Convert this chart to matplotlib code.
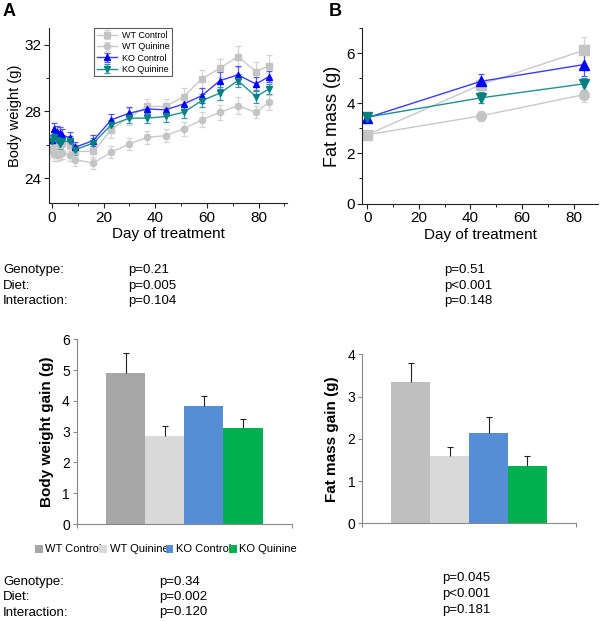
import matplotlib
matplotlib.use("Agg")
import matplotlib.pyplot as plt
from matplotlib.patches import Patch
from matplotlib.ticker import MultipleLocator

plt.rcParams['font.family'] = ['Liberation Sans', 'DejaVu Sans']

# ---------------- data ----------------
days = [0, 1, 2, 3, 4, 7, 9, 16, 23, 30, 37, 44, 51, 58, 65, 72, 79, 84]
wt_ctrl = [25.9, 26.1, 26.2, 26.0, 26.1, 26.0, 25.6, 25.6, 26.9, 27.7, 28.3, 28.3, 28.9, 29.95, 30.6, 31.3, 30.4, 30.75]
wt_quin = [25.6, 25.45, 25.4, 25.45, 25.5, 25.4, 25.1, 24.9, 25.55, 26.05, 26.45, 26.55, 26.95, 27.5, 27.95, 28.35, 27.95, 28.55]
ko_ctrl = [26.3, 26.95, 26.75, 26.7, 26.6, 26.4, 25.85, 26.25, 27.5, 27.9, 28.15, 28.1, 28.45, 28.95, 29.85, 30.2, 29.65, 30.1]
ko_quin = [26.25, 26.45, 26.3, 26.05, 26.2, 26.2, 25.7, 26.1, 27.2, 27.6, 27.6, 27.7, 27.95, 28.65, 29.1, 29.85, 28.9, 29.35]
wt_ctrl_err = [0.4, 0.4, 0.45, 0.4, 0.4, 0.4, 0.35, 0.45, 0.5, 0.5, 0.45, 0.45, 0.5, 0.55, 0.55, 0.65, 0.6, 0.65]
wt_quin_err = [0.35, 0.4, 0.4, 0.35, 0.35, 0.35, 0.35, 0.35, 0.35, 0.35, 0.4, 0.4, 0.4, 0.45, 0.45, 0.5, 0.35, 0.45]
ko_ctrl_err = [0.3, 0.35, 0.35, 0.35, 0.35, 0.35, 0.3, 0.35, 0.35, 0.35, 0.3, 0.35, 0.35, 0.45, 0.5, 0.55, 0.4, 0.35]
ko_quin_err = [0.3, 0.3, 0.3, 0.3, 0.3, 0.3, 0.3, 0.3, 0.3, 0.3, 0.3, 0.35, 0.35, 0.4, 0.4, 0.4, 0.4, 0.3]

fat_days = [0, 44, 84]
fat_wt_ctrl = [2.75, 4.75, 6.12]
fat_wt_quin = [2.75, 3.5, 4.35]
fat_ko_ctrl = [3.43, 4.88, 5.55]
fat_ko_quin = [3.45, 4.22, 4.78]
fat_wt_ctrl_err = [0.12, 0.2, 0.52]
fat_wt_quin_err = [0.1, 0.2, 0.3]
fat_ko_ctrl_err = [0.15, 0.28, 0.45]
fat_ko_quin_err = [0.1, 0.22, 0.25]

groups = ["WT Control", "WT Quinine", "KO Control", "KO Quinine"]
bw_gain = [4.9, 2.86, 3.83, 3.11]
bw_gain_err = [0.65, 0.33, 0.34, 0.29]
fat_gain = [3.34, 1.6, 2.13, 1.36]
fat_gain_err = [0.46, 0.21, 0.38, 0.24]

stat_labels = ["Genotype:", "Diet:", "Interaction:"]
p_bw = ["p=0.21", "p=0.005", "p=0.104"]
p_fat = ["p=0.51", "p<0.001", "p=0.148"]
p_bw_gain = ["p=0.34", "p=0.002", "p=0.120"]
p_fat_gain = ["p=0.045", "p<0.001", "p=0.181"]

# ---------------- figure ----------------
W, H = 600, 621
fig = plt.figure(figsize=(W / 100, H / 100), dpi=100)


def ax_px(left, top, right, bottom):
    return fig.add_axes([left / W, 1 - bottom / H, (right - left) / W, (bottom - top) / H])


line_styles = [
    dict(color='#c4c4c4', marker='s', ecolor='#d4d4d4', label='WT Control'),
    dict(color='#c4c4c4', marker='o', ecolor='#d4d4d4', label='WT Quinine'),
    dict(color='#0000ff', marker='^', ecolor='#5555ff', label='KO Control'),
    dict(color='#008080', marker='v', ecolor='#3a9a9a', label='KO Quinine'),
]
line_colors_line = ['#c8c8c8', '#c8c8c8', '#3b3bff', '#209090']


def style_line_axes(ax):
    for s in ['top', 'right']:
        ax.spines[s].set_visible(False)
    for s in ['left', 'bottom']:
        ax.spines[s].set_color('#222222')
        ax.spines[s].set_linewidth(0.8)
    ax.tick_params(which='major', direction='out', length=3.5, width=0.8, labelsize=11, color='#222222', pad=2)
    ax.tick_params(which='minor', direction='out', length=2, width=0.7, color='#222222')


# Panel A
axA = ax_px(49.3, 28.3, 287, 203)
seriesA = [(wt_ctrl, wt_ctrl_err), (wt_quin, wt_quin_err), (ko_ctrl, ko_ctrl_err), (ko_quin, ko_quin_err)]
for (vals, errs), st, lc in zip(seriesA, line_styles, line_colors_line):
    axA.errorbar(days, vals, yerr=errs, color=lc, marker=st['marker'], markersize=4.5,
                 markerfacecolor=st['color'], markeredgecolor=st['color'], ecolor=st['ecolor'],
                 elinewidth=0.9, capsize=2, capthick=0.9, linewidth=1.0, label=st['label'])
axA.set_xlim(-1, 91)
axA.set_ylim(22.5, 33)
axA.xaxis.set_major_locator(MultipleLocator(20))
axA.xaxis.set_minor_locator(MultipleLocator(10))
axA.yaxis.set_major_locator(MultipleLocator(4))
axA.yaxis.set_minor_locator(MultipleLocator(2))
style_line_axes(axA)
axA.set_xlabel('Day of treatment', fontsize=11, labelpad=2)
axA.set_ylabel('Body weight (g)', fontsize=10.5, labelpad=2)
legA = axA.legend(loc='upper left', bbox_to_anchor=(0.19, 1.0), fontsize=6.5, frameon=True,
                  fancybox=False, edgecolor='#333333', borderaxespad=0, handlelength=2.2,
                  borderpad=0.3, labelspacing=0.25, handletextpad=0.5)
legA.get_frame().set_linewidth(0.8)

# Panel B
axB = ax_px(362.3, 28.3, 598, 203.5)
seriesB = [(fat_wt_ctrl, fat_wt_ctrl_err), (fat_wt_quin, fat_wt_quin_err),
           (fat_ko_ctrl, fat_ko_ctrl_err), (fat_ko_quin, fat_ko_quin_err)]
for (vals, errs), st, lc in zip(seriesB, line_styles, line_colors_line):
    axB.errorbar(fat_days, vals, yerr=errs, color=lc, marker=st['marker'], markersize=7,
                 markerfacecolor=st['color'], markeredgecolor=st['color'], ecolor=st['ecolor'],
                 elinewidth=0.9, capsize=2, capthick=0.9, linewidth=1.0)
axB.set_xlim(-2, 89.5)
axB.set_ylim(0, 7)
axB.xaxis.set_major_locator(MultipleLocator(20))
axB.xaxis.set_minor_locator(MultipleLocator(10))
axB.yaxis.set_major_locator(MultipleLocator(2))
axB.yaxis.set_minor_locator(MultipleLocator(1))
style_line_axes(axB)
axB.set_xlabel('Day of treatment', fontsize=11, labelpad=2)
axB.set_ylabel('Fat mass (g)', fontsize=13, labelpad=4)

fig.text(3 / W, 1 - 12 / H, 'A', fontsize=13, fontweight='bold', va='center', ha='left')
fig.text(329 / W, 1 - 12 / H, 'B', fontsize=13, fontweight='bold', va='center', ha='left')

# Bar charts
bar_colors_left = ['#a6a6a6', '#d9d9d9', '#558ed5', '#00b050']
bar_colors_right = ['#bfbfbf', '#d9d9d9', '#558ed5', '#00b050']


def bar_axes(ax, vals, errs, colors, ymax, ylabel):
    x = list(range(len(vals)))
    ax.bar(x, vals, width=1.0, color=colors, edgecolor='none', zorder=2)
    eb = ax.errorbar(x, vals, yerr=[[0] * len(errs), errs], fmt='none', ecolor='#222222',
                     elinewidth=0.8, capsize=2.5, capthick=0.8, zorder=3)
    caps = eb[1]
    if len(caps) == 2:
        caps[0].set_visible(False)
    ax.set_xlim(-1.25, 4.25)
    ax.set_ylim(0, ymax)
    ax.set_xticks([-1.25, 4.25])
    ax.set_xticklabels(['', ''])
    ax.yaxis.set_major_locator(MultipleLocator(1))
    for s in ['top', 'right']:
        ax.spines[s].set_visible(False)
    for s in ['left', 'bottom']:
        ax.spines[s].set_color('#888888')
        ax.spines[s].set_linewidth(0.8)
    ax.tick_params(axis='both', direction='out', length=3, width=0.8, color='#888888', labelsize=10, pad=2)
    ax.set_ylabel(ylabel, fontsize=11, fontweight='bold', labelpad=6)


axC = ax_px(76.7, 339.3, 292, 524)
bar_axes(axC, bw_gain, bw_gain_err, bar_colors_left, 6, 'Body weight gain (g)')
axD = ax_px(362.3, 354.3, 576, 523.3)
bar_axes(axD, fat_gain, fat_gain_err, bar_colors_right, 4, 'Fat mass gain (g)')

handles = [Patch(facecolor=c, edgecolor='none', label=g) for c, g in zip(bar_colors_left, groups)]
fig.legend(handles=handles, loc='center', bbox_to_anchor=(166 / W, 1 - 549.5 / H), ncol=4,
           fontsize=8, frameon=False, handlelength=0.7, handleheight=0.7, handletextpad=0.25,
           columnspacing=-0.25, borderpad=0)

# statistics text
def stats_block(x_lab, x_p, y0, labels, pvals, fs=9.5, dy=15.5):
    for i, p in enumerate(pvals):
        y = 1 - (y0 + i * dy) / H
        if labels is not None:
            fig.text(x_lab / W, y, labels[i], fontsize=fs, va='center', ha='left')
        fig.text(x_p / W, y, p, fontsize=fs, va='center', ha='left')


stats_block(3, 128, 270.5, stat_labels, p_bw)
stats_block(None, 444, 270.5, None, p_fat)
stats_block(3, 159, 581.5, stat_labels, p_bw_gain)
stats_block(None, 442, 578.5, None, p_fat_gain)

fig.savefig('out.png', dpi=100)
